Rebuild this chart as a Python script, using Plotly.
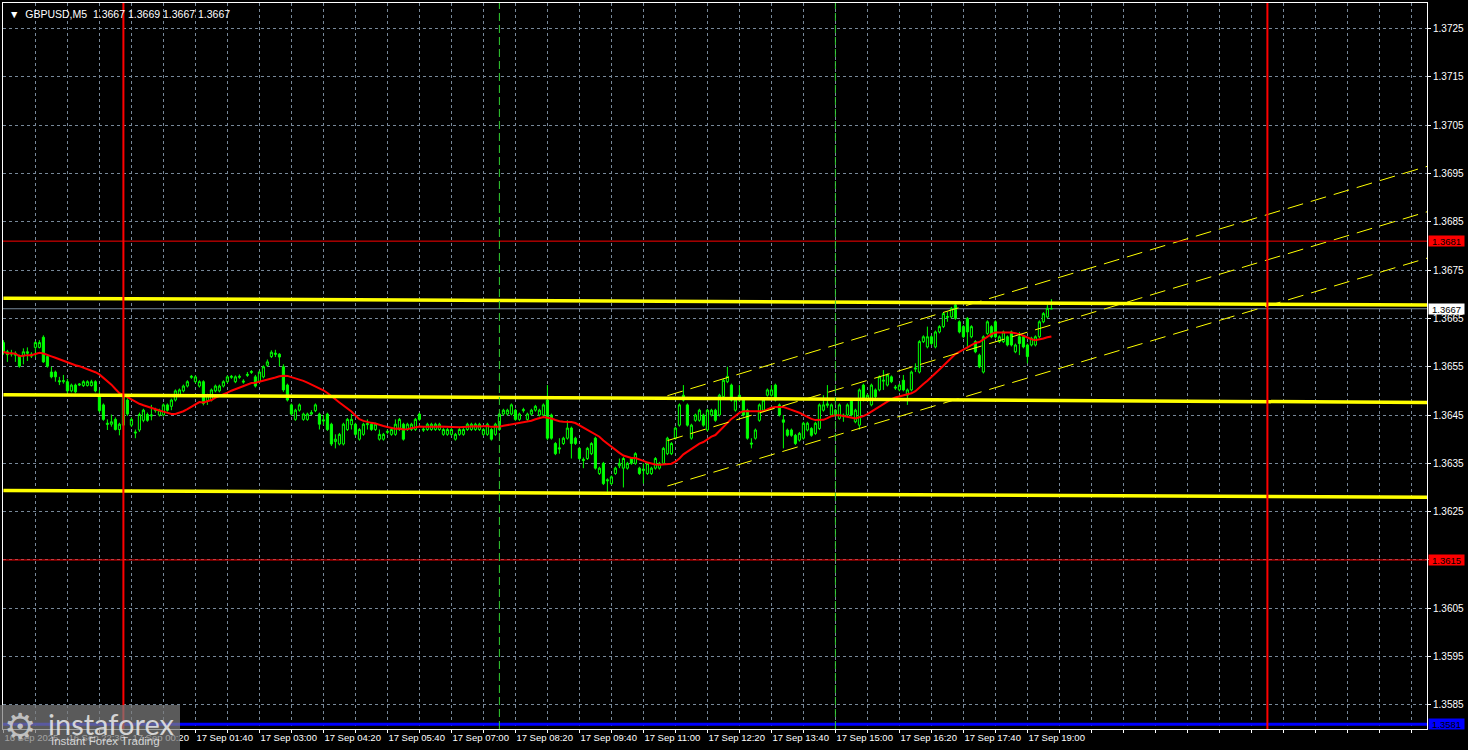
import plotly.graph_objects as go
import pandas as pd

# ---------------- data (GBPUSD M5) ----------------
opens = [
1.36600,1.36581,1.36576,1.36578,1.36572,1.36572,1.36581,1.36576,1.36590,1.36590,
1.36611,1.36571,1.36539,1.36539,1.36521,1.36519,1.36519,1.36500,1.36512,1.36512,
1.36511,1.36511,1.36511,1.36519,1.36491,1.36471,1.36433,1.36431,1.36441,1.36420,
1.36429,1.36481,1.36429,1.36415,1.36419,1.36439,1.36451,1.36448,1.36459,1.36450,
1.36450,1.36471,1.36468,1.36481,1.36491,1.36500,1.36510,1.36528,1.36519,1.36510,
1.36519,1.36480,1.36481,1.36500,1.36500,1.36510,1.36519,1.36528,1.36519,1.36528,
1.36518,1.36532,1.36538,1.36529,1.36519,1.36529,1.36553,1.36571,1.36578,1.36576,
1.36550,1.36512,1.36471,1.36441,1.36460,1.36441,1.36441,1.36452,1.36459,1.36452,
1.36440,1.36452,1.36431,1.36395,1.36390,1.36390,1.36420,1.36430,1.36431,1.36400,
1.36410,1.36430,1.36431,1.36420,1.36400,1.36400,1.36414,1.36410,1.36410,1.36420,
1.36431,1.36420,1.36420,1.36420,1.36452,1.36421,1.36420,1.36420,1.36420,1.36420,
1.36410,1.36410,1.36410,1.36400,1.36410,1.36410,1.36420,1.36420,1.36420,1.36420,
1.36410,1.36410,1.36420,1.36410,1.36420,1.36452,1.36452,1.36452,1.36460,1.36441,
1.36459,1.36441,1.36452,1.36460,1.36450,1.36450,1.36481,1.36450,1.36391,1.36382,
1.36391,1.36402,1.36423,1.36402,1.36381,1.36358,1.36360,1.36370,1.36402,1.36329,
1.36350,1.36316,1.36308,1.36329,1.36345,1.36340,1.36340,1.36360,1.36350,1.36340,
1.36335,1.36329,1.36329,1.36340,1.36340,1.36350,1.36370,1.36370,1.36402,1.36429,
1.36491,1.36471,1.36402,1.36439,1.36439,1.36450,1.36419,1.36450,1.36460,1.36450,
1.36488,1.36519,1.36512,1.36460,1.36491,1.36481,1.36460,1.36392,1.36402,1.36439,
1.36460,1.36491,1.36491,1.36512,1.36471,1.36440,1.36419,1.36419,1.36408,1.36398,
1.36402,1.36419,1.36422,1.36412,1.36422,1.36460,1.36470,1.36450,1.36450,1.36443,
1.36450,1.36450,1.36481,1.36436,1.36429,1.36512,1.36481,1.36471,1.36502,1.36502,
1.36520,1.36512,1.36529,1.36508,1.36502,1.36522,1.36491,1.36502,1.36545,1.36539,
1.36602,1.36591,1.36612,1.36591,1.36622,1.36633,1.36652,1.36653,1.36678,1.36643,
1.36633,1.36650,1.36612,1.36602,1.36574,1.36539,1.36619,1.36633,1.36643,1.36602,
1.36602,1.36612,1.36622,1.36581,1.36612,1.36612,1.36595,1.36595,1.36595,1.36612,
1.36643,1.36653,1.36670]

highs = [
1.36605,1.36585,1.36585,1.36582,1.36575,1.36588,1.36590,1.36580,1.36603,1.36605,
1.36615,1.36575,1.36550,1.36542,1.36529,1.36533,1.36525,1.36515,1.36515,1.36516,
1.36522,1.36522,1.36523,1.36522,1.36502,1.36474,1.36441,1.36451,1.36445,1.36434,
1.36491,1.36485,1.36445,1.36420,1.36455,1.36463,1.36455,1.36471,1.36465,1.36463,
1.36474,1.36474,1.36484,1.36503,1.36505,1.36513,1.36522,1.36533,1.36532,1.36522,
1.36522,1.36494,1.36505,1.36513,1.36513,1.36522,1.36532,1.36533,1.36532,1.36534,
1.36524,1.36539,1.36543,1.36533,1.36542,1.36553,1.36565,1.36584,1.36585,1.36578,
1.36555,1.36515,1.36474,1.36463,1.36474,1.36455,1.36455,1.36460,1.36474,1.36455,
1.36450,1.36455,1.36434,1.36410,1.36413,1.36434,1.36444,1.36452,1.36434,1.36423,
1.36434,1.36441,1.36434,1.36434,1.36420,1.36413,1.36420,1.36423,1.36441,1.36444,
1.36434,1.36434,1.36434,1.36444,1.36455,1.36425,1.36434,1.36434,1.36434,1.36434,
1.36423,1.36423,1.36423,1.36413,1.36423,1.36423,1.36434,1.36434,1.36434,1.36434,
1.36423,1.36434,1.36423,1.36434,1.36455,1.36463,1.36463,1.36474,1.36463,1.36455,
1.36465,1.36455,1.36463,1.36471,1.36463,1.36474,1.36512,1.36453,1.36394,1.36402,
1.36405,1.36439,1.36426,1.36405,1.36384,1.36362,1.36384,1.36394,1.36405,1.36343,
1.36353,1.36319,1.36325,1.36343,1.36360,1.36363,1.36353,1.36363,1.36373,1.36343,
1.36350,1.36353,1.36343,1.36363,1.36353,1.36384,1.36405,1.36394,1.36426,1.36474,
1.36512,1.36474,1.36432,1.36453,1.36463,1.36453,1.36463,1.36463,1.36463,1.36494,
1.36525,1.36550,1.36515,1.36484,1.36512,1.36484,1.36463,1.36402,1.36422,1.36474,
1.36484,1.36505,1.36512,1.36515,1.36474,1.36450,1.36422,1.36422,1.36411,1.36415,
1.36436,1.36436,1.36425,1.36436,1.36474,1.36491,1.36512,1.36474,1.36463,1.36474,
1.36453,1.36474,1.36484,1.36463,1.36505,1.36515,1.36494,1.36515,1.36505,1.36532,
1.36543,1.36536,1.36532,1.36512,1.36515,1.36533,1.36505,1.36542,1.36557,1.36605,
1.36615,1.36633,1.36615,1.36625,1.36636,1.36663,1.36664,1.36674,1.36683,1.36646,
1.36636,1.36653,1.36636,1.36605,1.36577,1.36615,1.36646,1.36636,1.36646,1.36615,
1.36625,1.36615,1.36625,1.36598,1.36622,1.36615,1.36598,1.36612,1.36615,1.36646,
1.36663,1.36678,1.36690]

lows = [
1.36575,1.36560,1.36571,1.36560,1.36548,1.36555,1.36562,1.36568,1.36570,1.36588,
1.36558,1.36548,1.36526,1.36519,1.36512,1.36515,1.36495,1.36497,1.36495,1.36510,
1.36508,1.36509,1.36509,1.36497,1.36455,1.36438,1.36419,1.36426,1.36418,1.36408,
1.36425,1.36448,1.36425,1.36402,1.36415,1.36435,1.36436,1.36439,1.36455,1.36447,
1.36447,1.36457,1.36460,1.36478,1.36488,1.36497,1.36507,1.36525,1.36516,1.36507,
1.36470,1.36471,1.36478,1.36497,1.36497,1.36507,1.36516,1.36525,1.36516,1.36525,
1.36515,1.36529,1.36535,1.36507,1.36516,1.36526,1.36550,1.36568,1.36570,1.36551,
1.36498,1.36478,1.36449,1.36438,1.36457,1.36438,1.36438,1.36450,1.36456,1.36420,
1.36429,1.36417,1.36386,1.36381,1.36387,1.36387,1.36417,1.36420,1.36407,1.36397,
1.36407,1.36420,1.36417,1.36417,1.36397,1.36397,1.36410,1.36407,1.36407,1.36417,
1.36397,1.36417,1.36417,1.36417,1.36438,1.36415,1.36417,1.36417,1.36417,1.36417,
1.36407,1.36407,1.36407,1.36397,1.36407,1.36407,1.36417,1.36417,1.36417,1.36417,
1.36407,1.36407,1.36397,1.36407,1.36417,1.36449,1.36449,1.36449,1.36438,1.36438,
1.36455,1.36438,1.36449,1.36457,1.36447,1.36447,1.36398,1.36399,1.36367,1.36370,
1.36388,1.36399,1.36360,1.36388,1.36357,1.36340,1.36357,1.36367,1.36337,1.36326,
1.36305,1.36291,1.36305,1.36326,1.36340,1.36300,1.36337,1.36347,1.36347,1.36326,
1.36308,1.36326,1.36326,1.36337,1.36337,1.36347,1.36367,1.36367,1.36399,1.36426,
1.36478,1.36426,1.36399,1.36436,1.36436,1.36426,1.36416,1.36447,1.36436,1.36447,
1.36485,1.36516,1.36478,1.36457,1.36478,1.36447,1.36399,1.36381,1.36399,1.36436,
1.36457,1.36488,1.36488,1.36478,1.36447,1.36381,1.36405,1.36405,1.36388,1.36395,
1.36399,1.36416,1.36405,1.36409,1.36419,1.36457,1.36465,1.36447,1.36447,1.36440,
1.36436,1.36447,1.36447,1.36433,1.36420,1.36478,1.36478,1.36468,1.36485,1.36499,
1.36502,1.36509,1.36516,1.36502,1.36499,1.36499,1.36471,1.36499,1.36539,1.36536,
1.36599,1.36588,1.36595,1.36588,1.36619,1.36630,1.36643,1.36650,1.36647,1.36619,
1.36609,1.36588,1.36609,1.36578,1.36547,1.36536,1.36616,1.36609,1.36609,1.36599,
1.36599,1.36592,1.36592,1.36578,1.36574,1.36588,1.36557,1.36592,1.36592,1.36609,
1.36640,1.36650,1.36670]

closes = [
1.36581,1.36575,1.36578,1.36574,1.36551,1.36581,1.36578,1.36572,1.36600,1.36600,
1.36560,1.36551,1.36529,1.36529,1.36519,1.36521,1.36500,1.36512,1.36498,1.36514,
1.36519,1.36519,1.36519,1.36500,1.36459,1.36441,1.36431,1.36436,1.36420,1.36431,
1.36488,1.36452,1.36441,1.36413,1.36451,1.36460,1.36439,1.36450,1.36461,1.36460,
1.36471,1.36460,1.36481,1.36500,1.36502,1.36510,1.36519,1.36530,1.36529,1.36519,
1.36474,1.36491,1.36502,1.36510,1.36510,1.36519,1.36529,1.36530,1.36529,1.36530,
1.36520,1.36534,1.36540,1.36510,1.36539,1.36550,1.36560,1.36580,1.36576,1.36570,
1.36502,1.36481,1.36452,1.36460,1.36471,1.36452,1.36452,1.36455,1.36471,1.36431,
1.36438,1.36420,1.36390,1.36400,1.36410,1.36431,1.36441,1.36441,1.36410,1.36420,
1.36431,1.36432,1.36420,1.36431,1.36410,1.36410,1.36416,1.36420,1.36431,1.36441,
1.36400,1.36431,1.36431,1.36441,1.36441,1.36419,1.36431,1.36431,1.36431,1.36431,
1.36420,1.36420,1.36420,1.36410,1.36420,1.36420,1.36431,1.36431,1.36431,1.36431,
1.36420,1.36431,1.36400,1.36431,1.36452,1.36460,1.36460,1.36471,1.36441,1.36452,
1.36461,1.36452,1.36460,1.36468,1.36460,1.36471,1.36402,1.36402,1.36370,1.36380,
1.36402,1.36423,1.36391,1.36391,1.36360,1.36356,1.36381,1.36391,1.36340,1.36340,
1.36308,1.36314,1.36322,1.36340,1.36350,1.36360,1.36350,1.36350,1.36370,1.36329,
1.36338,1.36350,1.36340,1.36360,1.36350,1.36381,1.36402,1.36391,1.36423,1.36471,
1.36481,1.36429,1.36429,1.36450,1.36460,1.36429,1.36460,1.36460,1.36439,1.36491,
1.36522,1.36530,1.36481,1.36481,1.36481,1.36450,1.36402,1.36390,1.36419,1.36471,
1.36481,1.36502,1.36502,1.36481,1.36450,1.36435,1.36408,1.36408,1.36391,1.36412,
1.36433,1.36433,1.36408,1.36433,1.36471,1.36471,1.36473,1.36471,1.36460,1.36471,
1.36448,1.36471,1.36450,1.36460,1.36502,1.36481,1.36491,1.36512,1.36488,1.36529,
1.36522,1.36533,1.36519,1.36506,1.36512,1.36502,1.36502,1.36539,1.36547,1.36602,
1.36612,1.36612,1.36598,1.36622,1.36633,1.36660,1.36654,1.36671,1.36650,1.36622,
1.36612,1.36622,1.36633,1.36581,1.36550,1.36612,1.36643,1.36612,1.36612,1.36612,
1.36622,1.36595,1.36595,1.36595,1.36598,1.36591,1.36571,1.36609,1.36612,1.36643,
1.36660,1.36671,1.36670]

bar_index = list(range(len(closes)))
ma_period = 20

# time-axis labels (every 16 bars), grid every 8 bars
label_index = [0, 16, 32, 48, 64, 80, 96, 112, 128, 144, 160, 176, 192, 208, 224, 240, 256]
label_text = ["16 Sep 2025", "16 Sep 22:30", "17 Sep 00:20", "17 Sep 01:40", "17 Sep 03:00",
              "17 Sep 04:20", "17 Sep 05:40", "17 Sep 07:00", "17 Sep 08:20", "17 Sep 09:40",
              "17 Sep 11:00", "17 Sep 12:20", "17 Sep 13:40", "17 Sep 15:00", "17 Sep 16:20",
              "17 Sep 17:40", "17 Sep 19:00"]
grid_index = list(range(0, 360, 8))

price_ticks = [1.3585, 1.3595, 1.3605, 1.3615, 1.3625, 1.3635, 1.3645, 1.3655,
               1.3665, 1.3675, 1.3685, 1.3695, 1.3705, 1.3715, 1.3725]
price_tick_text = ["1.3585", "1.3595", "1.3605", "1.3615", "1.3625", "1.3635", "1.3645", "1.3655",
                   "1.3665", "1.3675", "1.3685", "1.3695", "1.3705", "1.3715", "1.3725"]

# drawn objects
level_span = [0, 356]
yellow_level_start = [1.36692, 1.36492, 1.36294]
yellow_level_end = [1.36678, 1.36476, 1.36280]
channel_span = [166, 356]
channel_start = [1.36490, 1.36397, 1.36303]
channel_end = [1.36965, 1.36871, 1.36775]
red_levels = [1.3681, 1.3615]
blue_level = 1.3581
bid_level = 1.3667
red_vlines = [30, 316]
session_vlines = [124, 208]

x_range = [-0.1, 355.9]
y_range = [1.35800, 1.37303]

# ---------------- figure ----------------
FONT = "Liberation Sans"
GRID = "#778899"

ma = pd.Series(closes).rolling(ma_period, min_periods=1).mean()

fig = go.Figure()
fig.add_trace(go.Candlestick(
    x=bar_index, open=opens, high=highs, low=lows, close=closes,
    increasing=dict(line=dict(color="#00ff00", width=1), fillcolor="#000000"),
    decreasing=dict(line=dict(color="#00ff00", width=1), fillcolor="#00ff00"),
    whiskerwidth=0, hoverinfo="skip", showlegend=False))

fig.add_trace(go.Scatter(x=bar_index, y=ma, mode="lines",
                         line=dict(color="#ff0000", width=2), hoverinfo="skip"))

for s, e in zip(yellow_level_start, yellow_level_end):
    fig.add_trace(go.Scatter(x=level_span, y=[s, e], mode="lines",
                             line=dict(color="#ffff00", width=3.5), hoverinfo="skip"))

for s, e in zip(channel_start, channel_end):
    fig.add_trace(go.Scatter(x=channel_span, y=[s, e], mode="lines",
                             line=dict(color="#ffff00", width=1, dash="16px,8px"), hoverinfo="skip"))

shapes = []
for lv in red_levels:
    shapes.append(dict(type="line", xref="paper", x0=0, x1=1, yref="y", y0=lv, y1=lv,
                       line=dict(color="#ff0000", width=1)))
shapes.append(dict(type="line", xref="paper", x0=0, x1=1, yref="y", y0=bid_level, y1=bid_level,
                   line=dict(color=GRID, width=1), layer="below"))
shapes.append(dict(type="line", xref="paper", x0=0, x1=1, yref="y", y0=blue_level, y1=blue_level,
                   line=dict(color="#0000ff", width=3)))
for vx in session_vlines:
    shapes.append(dict(type="line", xref="x", x0=vx, x1=vx, yref="paper", y0=0, y1=1,
                       line=dict(color="#32cd32", width=1, dash="8px,4px")))
for vx in red_vlines:
    shapes.append(dict(type="line", xref="x", x0=vx, x1=vx, yref="paper", y0=0, y1=1,
                       line=dict(color="#ff0000", width=2)))
# watermark box
shapes.append(dict(type="rect", xref="paper", yref="paper", x0=-0.0025, x1=0.1243, y0=-0.03, y1=0.0331,
                   fillcolor="rgba(125,125,125,0.72)", line=dict(width=0)))

annotations = []
# price boxes on the right scale
for lv, bg in [(red_levels[0], "#ff0000"), (bid_level, "#ffffff"), (red_levels[1], "#ff0000"), (blue_level, "#0000ff")]:
    annotations.append(dict(x=1, xref="paper", xanchor="left", xshift=1, y=lv, yref="y",
                            text=f"{lv:.4f}", showarrow=False, bgcolor=bg, width=35, height=10,
                            borderpad=0, font=dict(family=FONT, size=9.5, color="#000000")))
# title
annotations.append(dict(x=0, xref="paper", xanchor="left", xshift=4, y=1, yref="paper", yanchor="top",
                        yshift=-3, showarrow=False, align="left",
                        text=("▼\u00a0\u00a0GBPUSD,M5\u00a0\u00a0" + f"{opens[-1]:.4f} {highs[-1]:.4f} "
                              f"{lows[-1]:.4f} {closes[-1]:.4f}"),
                        font=dict(family=FONT, size=10.5, color="#ffffff")))
# watermark texts
annotations.append(dict(x=0.0120, xref="paper", y=0.0040, yref="paper", xanchor="center", yanchor="middle",
                        text="⚙", showarrow=False,
                        font=dict(family="DejaVu Sans", size=36, color="rgba(210,210,210,0.85)")))
annotations.append(dict(x=0.0300, xref="paper", y=0.0075, yref="paper", xanchor="left", yanchor="middle",
                        text="instaforex", showarrow=False,
                        font=dict(family="Lato", size=29, color="rgba(235,235,235,0.85)")))
annotations.append(dict(x=0.0320, xref="paper", y=-0.0170, yref="paper", xanchor="left", yanchor="middle",
                        text="Instant Forex Trading", showarrow=False,
                        font=dict(family=FONT, size=11.5, color="rgba(235,235,235,0.85)")))

tick_lookup = dict(zip(label_index, label_text))
fig.update_layout(
    width=1468, height=750,
    margin=dict(l=3, r=41, t=3, b=21, autoexpand=False),
    paper_bgcolor="#000000", plot_bgcolor="#000000",
    showlegend=False, boxgap=0.25, hovermode=False,
    shapes=shapes, annotations=annotations,
    xaxis=dict(range=x_range, rangeslider=dict(visible=False),
               tickmode="array", tickvals=grid_index,
               ticktext=[tick_lookup.get(i, "") for i in grid_index],
               ticklabelposition="outside right", tickangle=0, automargin=False,
               showgrid=True, gridcolor=GRID, griddash="3px,3px", gridwidth=1,
               ticks="outside", ticklen=3, tickcolor="#ffffff",
               tickfont=dict(family=FONT, size=9.5, color="#ffffff"),
               showline=True, linecolor="#ffffff", linewidth=1, mirror=True,
               zeroline=False, fixedrange=True),
    yaxis=dict(range=y_range, side="right", automargin=False,
               tickmode="array", tickvals=price_ticks, ticktext=price_tick_text,
               showgrid=True, gridcolor=GRID, griddash="3px,3px", gridwidth=1,
               ticks="outside", ticklen=3, tickcolor="#ffffff",
               tickfont=dict(family=FONT, size=10, color="#ffffff"),
               showline=True, linecolor="#ffffff", linewidth=1, mirror=True,
               zeroline=False, fixedrange=True),
)

fig.write_html("out.html", config={"displayModeBar": False},
               post_script="document.body.style.margin='0';document.body.style.overflow='hidden';")
